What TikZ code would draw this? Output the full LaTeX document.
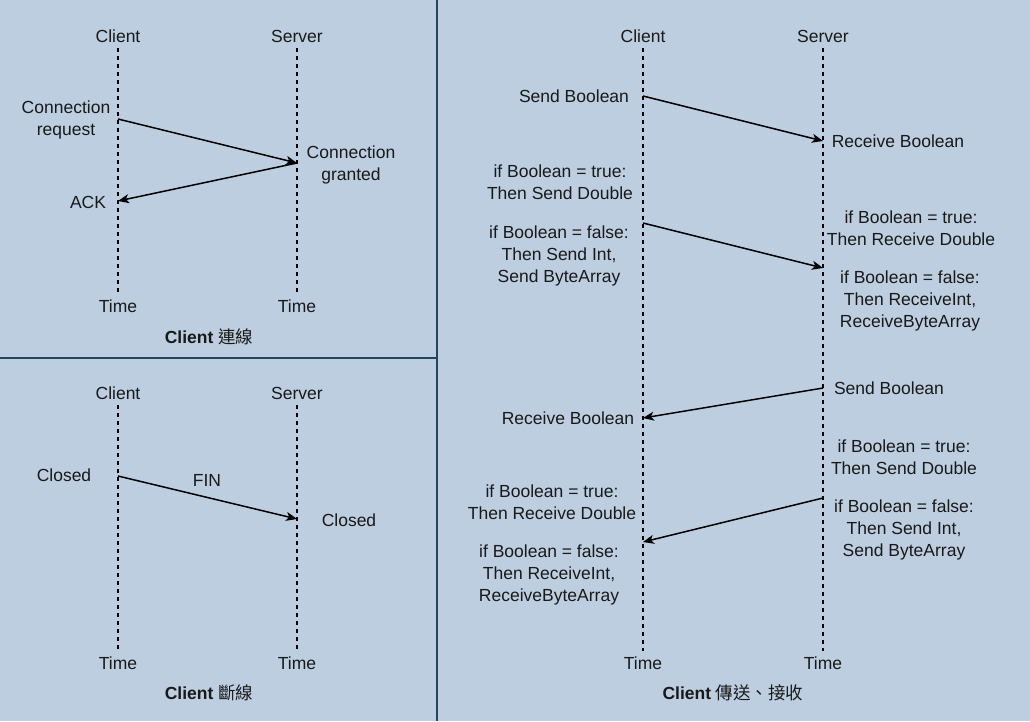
\documentclass[tikz,border=0pt]{standalone}
\usepackage{fontspec}
\setmainfont{Liberation Sans}
\newfontfamily\cjk{Noto Sans CJK TC}
\usetikzlibrary{arrows.meta}
\definecolor{panelbg}{HTML}{BDCEE0}
\definecolor{panelline}{HTML}{23445D}

\begin{document}
\begin{tikzpicture}[x=1pt,y=-1pt]
  \tikzstyle{every node}=[font=\fontsize{17.5}{22}\selectfont,text=black!90,inner sep=0pt,yshift=-1pt]
  \tikzstyle{actor}=[text height=12pt,text depth=0pt,inner ysep=6pt]
  \tikzstyle{note}=[align=center,yshift=-1pt]
  \tikzstyle{lifeline}=[draw=black,dash pattern=on 4pt off 4pt,line width=1.5pt]
  \tikzstyle{msg}=[draw=black,line width=1.5pt,-{Stealth[length=11pt,width=9pt,inset=3pt]}]
  \tikzstyle{divider}=[draw=panelline,line width=1.5pt]
  \useasboundingbox (0,0) rectangle (1030,721);
  \fill[panelbg] (0,0) rectangle (1030,721);
  \draw[divider] (437,0) -- (437,721);
  \draw[divider] (0,358) -- (437,358);

  % connect
  \node[actor] (cc) at (118,35) {Client};
  \node[actor] (cs) at (297,35) {Server};
  \node[actor] (tcc) at (118,305) {Time};
  \node[actor] (tcs) at (297,305) {Time};
  \draw[lifeline] (cc.south) -- (tcc.north);
  \draw[lifeline] (cs.south) -- (tcs.north);
  \coordinate (req) at (118,118);
  \coordinate (grant) at (297,162);
  \coordinate (ack) at (118,200);
  \draw[msg] (req) -- (grant);
  \draw[msg] (grant) -- (ack);
  \node[note] (lreq) at (66,118) {Connection\\request};
  \node[note] (lgrant) at (351,163) {Connection\\granted};
  \node[note] (lack) at (88,200) {ACK};
  \node (tconn) at (209,336) {\bfseries Client {\mdseries\cjk 連線}};

  % disconnect
  \node[actor] (dc) at (118,392) {Client};
  \node[actor] (ds) at (297,392) {Server};
  \node[actor] (tdc) at (118,662) {Time};
  \node[actor] (tds) at (297,662) {Time};
  \draw[lifeline] (dc.south) -- (tdc.north);
  \draw[lifeline] (ds.south) -- (tds.north);
  \coordinate (fin1) at (118,475);
  \coordinate (fin2) at (297,518);
  \draw[msg] (fin1) -- (fin2);
  \node (lclose1) at (64,474) {Closed};
  \node (lfin) at (207,479) {FIN};
  \node (lclose2) at (349,519) {Closed};
  \node (tdisc) at (209,692) {\bfseries Client {\mdseries\cjk 斷線}};

  % send / receive
  \node[actor] (sc) at (643,35) {Client};
  \node[actor] (ss) at (823,35) {Server};
  \node[actor] (tsc) at (643,662) {Time};
  \node[actor] (tss) at (823,662) {Time};
  \draw[lifeline] (sc.south) -- (tsc.north);
  \draw[lifeline] (ss.south) -- (tss.north);
  \coordinate (b1) at (643,95);
  \coordinate (b2) at (823,140);
  \coordinate (d1) at (643,222);
  \coordinate (d2) at (823,267);
  \coordinate (b3) at (823,387);
  \coordinate (b4) at (643,417);
  \coordinate (d3) at (823,497);
  \coordinate (d4) at (643,541);
  \draw[msg] (b1) -- (b2);
  \draw[msg] (d1) -- (d2);
  \draw[msg] (b3) -- (b4);
  \draw[msg] (d3) -- (d4);
  \node (lsb1) at (574,95) {Send Boolean};
  \node (lrb1) at (898,140) {Receive Boolean};
  \node[note] (lst1) at (560,180) {if Boolean = true:\\Then Send Double};
  \node[note] (lsf1) at (559,254) {if Boolean = false:\\Then Send Int,\\Send ByteArray};
  \node[note] (lrt1) at (911,226) {if Boolean = true:\\Then Receive Double};
  \node[note] (lrf1) at (910,299) {if Boolean = false:\\Then ReceiveInt,\\ReceiveByteArray};
  \node (lsb2) at (889,387) {Send Boolean};
  \node (lrb2) at (568,417) {Receive Boolean};
  \node[note] (lst2) at (904,455) {if Boolean = true:\\Then Send Double};
  \node[note] (lsf2) at (904,528) {if Boolean = false:\\Then Send Int,\\Send ByteArray};
  \node[note] (lrt2) at (552,500) {if Boolean = true:\\Then Receive Double};
  \node[note] (lrf2) at (549,573) {if Boolean = false:\\Then ReceiveInt,\\ReceiveByteArray};
  \node (tsend) at (733,692) {\bfseries Client {\mdseries\cjk 傳送、接收}};
\end{tikzpicture}
\end{document}
